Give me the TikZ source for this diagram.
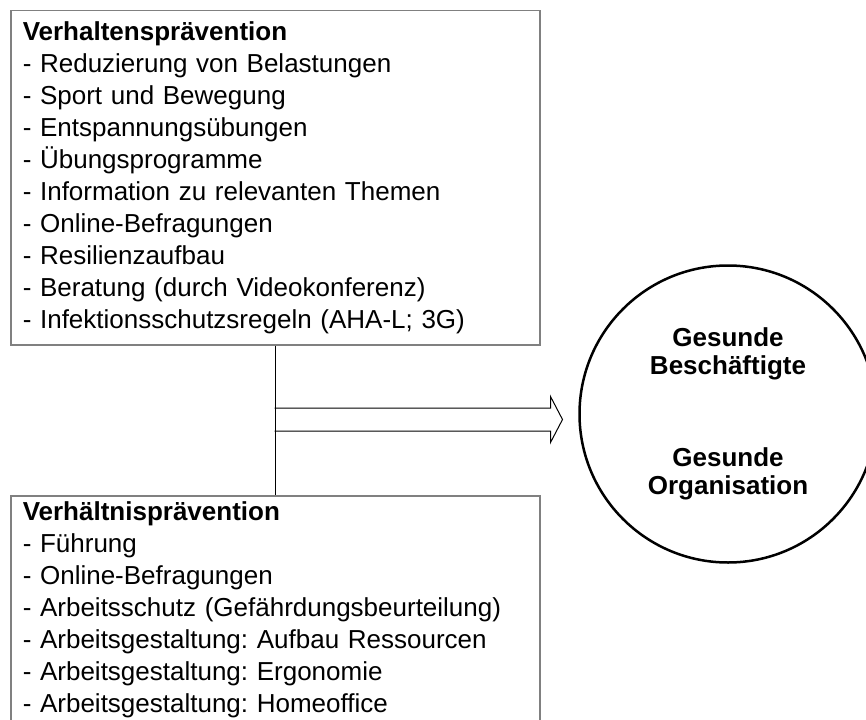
\documentclass[tikz,border=0pt]{standalone}
\usepackage{fontspec}
\setmainfont{Liberation Sans}
\definecolor{rahmen}{RGB}{128,128,128}
\frenchspacing

\begin{document}
\begin{tikzpicture}[x=1pt, y=-1pt,
    kasten/.style={draw=rahmen, line width=1.5pt, anchor=north west, text width=505pt,
      inner xsep=12pt, align=left, font=\fontsize{26}{32}\selectfont},
    ziel/.style={draw, circle, line width=2.5pt, minimum size=297pt, align=center,
      font=\bfseries\fontsize{26}{28}\selectfont},
    pfeil/.style={line width=1pt, line join=miter}]
    \useasboundingbox (0,0) rectangle (866,719);
    \node[kasten, inner ysep=11pt] (verhalten) at (10,10) {\textbf{Verhaltensprävention}\\
      - Reduzierung von Belastungen\\
      - Sport und Bewegung\\
      - Entspannungsübungen\\
      - Übungsprogramme\\
      - Information zu relevanten Themen\\
      - Online-Befragungen\\
      - Resilienzaufbau\\
      - Beratung (durch Videokonferenz)\\
      - Infektionsschutzsregeln (AHA-L; 3G)};
    \node[kasten, inner ysep=6.4pt] (verhaeltnis) at (10,495) {\textbf{Verhältnisprävention}\\
      - Führung\\
      - Online-Befragungen\\
      - Arbeitsschutz (Gefährdungsbeurteilung)\\
      - Arbeitsgestaltung: Aufbau Ressourcen\\
      - Arbeitsgestaltung: Ergonomie\\
      - Arbeitsgestaltung: Homeoffice};
    \node[ziel] (gesund) at (728,414) {Gesunde\\Beschäftigte\\[64pt]Gesunde\\Organisation};
    \draw[line width=1pt] (verhalten.south) -- (verhaeltnis.north);
    % hollow arrow towards the circle
    \coordinate (pfeil) at (274.5,419.5);
    \draw[pfeil] (pfeil) ++(0,-11.5) -- ++(276,0) -- ++(0,-11.5) -- ++(12,23)
      -- ++(-12,23) -- ++(0,-11.5) -- ++(-276,0);
\end{tikzpicture}
\end{document}
